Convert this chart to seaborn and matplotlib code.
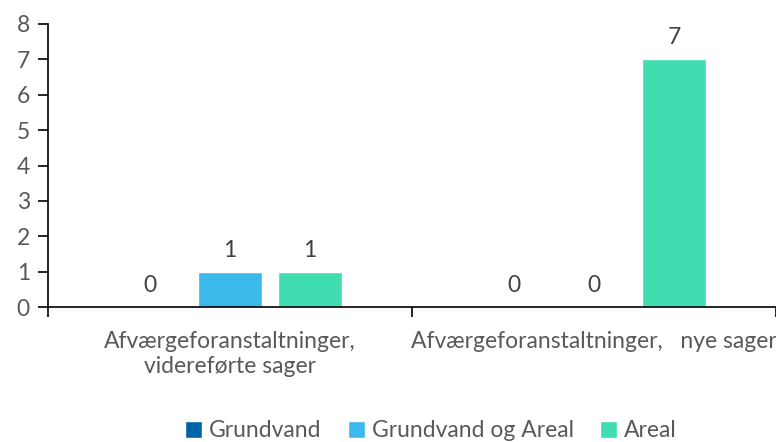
import matplotlib
matplotlib.use("Agg")
import matplotlib.pyplot as plt
import seaborn as sns
import pandas as pd
from matplotlib.ticker import FixedLocator

categories = ["Afværgeforanstaltninger,\nvidereførte sager", "Afværgeforanstaltninger,   nye sager"]
series = ["Grundvand", "Grundvand og Areal", "Areal"]
grundvand = [0, 0]
grundvand_og_areal = [1, 0]
areal = [1, 7]
colors = ["#0063A7", "#3CB9EB", "#40DDB1"]
yticks = [0, 1, 2, 3, 4, 5, 6, 7, 8]

rows = []
for s, vals in zip(series, [grundvand, grundvand_og_areal, areal]):
    for c, v in zip(categories, vals):
        rows.append({"cat": c, "serie": s, "val": v})
df = pd.DataFrame(rows)

sns.set_theme(style="white")
plt.rcParams["font.family"] = ["Lato", "DejaVu Sans"]

FS = 16.5
fig = plt.figure(figsize=(7.76, 4.42), dpi=100)
ax = fig.add_axes([48 / 776, 1 - 307 / 442, 1 - 48 / 776, (307 - 24) / 442])

sns.barplot(data=df, x="cat", y="val", hue="serie", order=categories,
            hue_order=series, palette=colors, width=0.66, gap=0.2,
            saturation=1, ax=ax, legend=True)

for cont in ax.containers:
    ax.bar_label(cont, fmt="%g", padding=8, color="#404040", fontsize=FS)

ax.set_ylim(0, 8)
ax.set_xlim(-0.5, 1.5)
ax.set_yticks(yticks)
ax.set_xlabel("")
ax.set_ylabel("")
for sp in ["top", "right"]:
    ax.spines[sp].set_visible(False)
for sp in ["left", "bottom"]:
    ax.spines[sp].set_color("black")
    ax.spines[sp].set_linewidth(1.2)

ax.tick_params(axis="y", which="major", left=True, length=7, width=1.2,
               color="black", labelsize=FS, labelcolor="#595959", pad=6)
ax.tick_params(axis="x", which="major", bottom=False, labelsize=FS,
               labelcolor="#595959", pad=11)
ax.xaxis.set_minor_locator(FixedLocator([-0.5, 0.5, 1.5]))
ax.tick_params(axis="x", which="minor", bottom=True, length=7, width=1.2, color="black")
for lbl in ax.get_xticklabels():
    lbl.set_linespacing(1.25)

leg = ax.get_legend()
handles = leg.legend_handles
leg.remove()
fig.legend(handles, series, loc="center", bbox_to_anchor=(0.555, 0.025), ncol=3,
           frameon=False, fontsize=FS, handlelength=0.75, handleheight=0.75,
           handletextpad=0.3, columnspacing=1.15, labelcolor="#595959")

fig.savefig("out.png", dpi=100)
